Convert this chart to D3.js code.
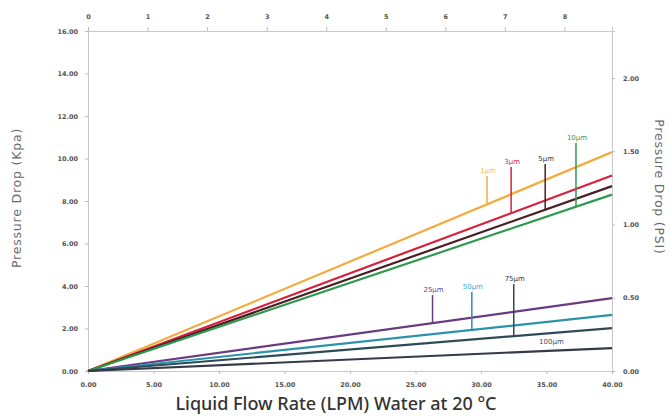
<!DOCTYPE html>
<html><head><meta charset="utf-8">
<script src="https://cdn.jsdelivr.net/npm/d3@7/dist/d3.min.js"></script>
<style>body{margin:0;background:#fff}svg{display:block}</style>
</head><body>
<svg id="c" width="670" height="417"></svg>
<script>
// ---- data ----
const flowDomain = [0, 40];              // LPM
const seriesNames = ["1μm","3μm","5μm","10μm","25μm","50μm","75μm","100μm"];
const dropAt40 = [10.3, 9.2, 8.7, 8.3, 3.43, 2.64, 2.02, 1.08]; // kPa at 40 LPM (0 at 0 LPM)
const seriesColors = ["#f4ab3c","#d8203c","#4a1f24","#2f9a4e","#6a3a80","#2b93a8","#2d4a58","#343a4a"];
const labelColors = ["#f2b84a","#d8203c","#4a2a2a","#2f9a4e","#6a3aa0","#35a8e0","#333333","#3a4a66"];
const labelFlow = [30.46, 32.3, 34.9, 37.25, 26.3, 29.3, 32.5, 35.3];   // LPM where label sits
const labelDrop = [9.41, 9.84, 9.98, 10.96, 3.81, 3.95, 4.33, 1.36];    // kPa where label sits
const hasLeader = [true,true,true,true,true,true,true,false];
const bottomTicks = [0,5,10,15,20,25,30,35,40];
const leftTicks = [0,2,4,6,8,10,12,14,16];
const rightTicks = [0,0.5,1,1.5,2];
const topTicks = [0,1,2,3,4,5,6,7,8];
const KPA_PER_PSI = 6.894757, L_PER_IGAL = 4.54609;

const svg = d3.select("#c");
const L = 88, R = 612, T = 31, B = 371;
const x = d3.scaleLinear(flowDomain, [L, R]);
const y = d3.scaleLinear([0, 16], [B, T]);
const xTop = d3.scaleLinear([0, 40 / L_PER_IGAL], [L, R]);
const yRight = d3.scaleLinear([0, 16 / KPA_PER_PSI], [B, T]);

const tickFont = g => g.selectAll("text").attr("font-family","DejaVu Sans").attr("font-size",6.5)
  .attr("font-weight","bold").attr("fill","#555");
const styleAxis = g => { g.select(".domain").attr("stroke","#c8c8c8"); g.selectAll(".tick line").attr("stroke","#bbb"); tickFont(g); };

svg.append("g").attr("transform",`translate(0,${B})`)
  .call(d3.axisBottom(x).tickValues(bottomTicks).tickFormat(d3.format(".2f")).tickSize(3).tickPadding(8))
  .call(styleAxis);
svg.append("g").attr("transform",`translate(${L},0)`)
  .call(d3.axisLeft(y).tickValues(leftTicks).tickFormat(d3.format(".2f")).tickSize(3).tickPadding(7))
  .call(styleAxis);
svg.append("g").attr("transform",`translate(${R},0)`)
  .call(d3.axisRight(yRight).tickValues(rightTicks).tickFormat(d3.format(".2f")).tickSize(3).tickPadding(8))
  .call(styleAxis);
svg.append("g").attr("transform",`translate(0,${T})`)
  .call(d3.axisTop(xTop).tickValues(topTicks).tickFormat(d3.format("d")).tickSize(4).tickPadding(8))
  .call(styleAxis);

// series lines
const line = d3.line().x(d => x(d[0])).y(d => y(d[1]));
seriesNames.forEach((n, i) => {
  const pts = [[flowDomain[0], 0], [flowDomain[1], dropAt40[i]]];
  svg.append("path").attr("d", line(pts)).attr("fill","none")
    .attr("stroke", seriesColors[i]).attr("stroke-width", 2.2);
});

// labels with leaders
seriesNames.forEach((n, i) => {
  const lx = x(labelFlow[i]);
  const ly = y(labelDrop[i]);
  const onLine = y(dropAt40[i] * labelFlow[i] / 40);
  if (hasLeader[i]) {
    svg.append("line").attr("x1", lx).attr("x2", lx).attr("y1", ly + 5).attr("y2", onLine)
      .attr("stroke", seriesColors[i]).attr("stroke-width", 1.5);
  }
  svg.append("text").attr("x", lx + 1).attr("y", ly + 2).attr("text-anchor","middle")
    .attr("font-family","DejaVu Sans").attr("font-size",7).attr("fill", labelColors[i]).text(n);
});

// titles
svg.append("text").attr("x", 336).attr("y", 410).attr("text-anchor","middle")
  .attr("font-family","Noto Sans").attr("font-size",18).attr("font-weight",500).attr("fill","#333")
  .text("Liquid Flow Rate (LPM) Water at 20 °C");
svg.append("text").attr("transform","translate(21,198) rotate(-90)").attr("text-anchor","middle")
  .attr("font-family","DejaVu Sans").attr("font-size",12.5).attr("letter-spacing",0.8).attr("fill","#6a6a6a").text("Pressure Drop (Kpa)");
svg.append("text").attr("transform","translate(655,187) rotate(90)").attr("text-anchor","middle")
  .attr("font-family","DejaVu Sans").attr("font-size",12.5).attr("letter-spacing",0.8).attr("fill","#6a6a6a").text("Pressure Drop (PSI)");
</script>
</body></html>
